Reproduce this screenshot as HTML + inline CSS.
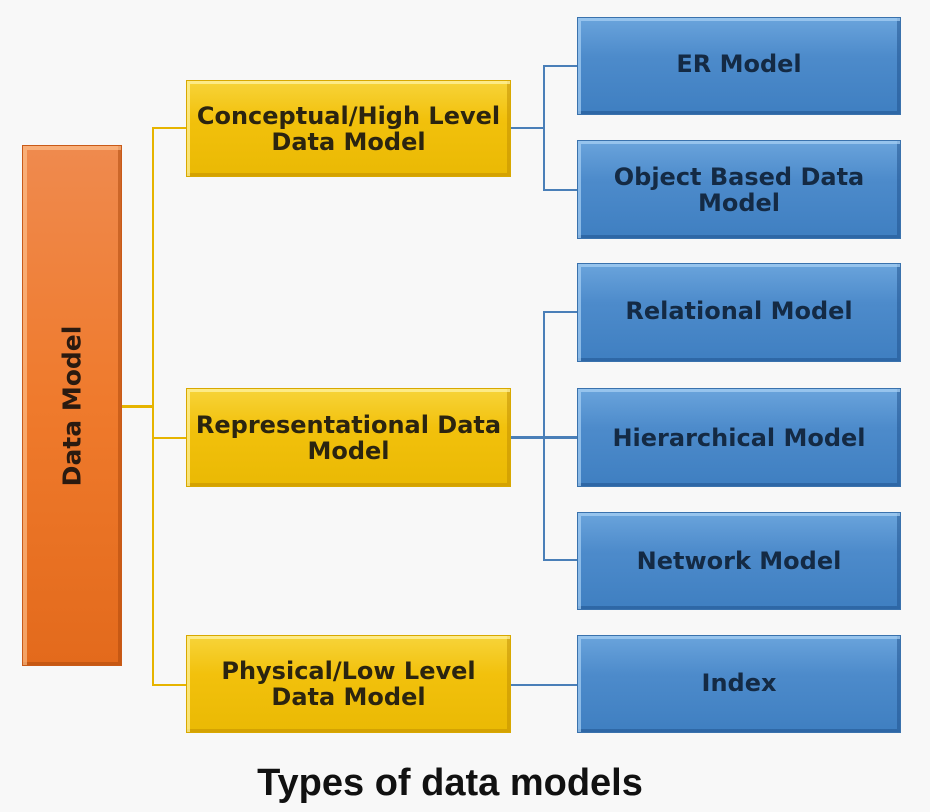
<!DOCTYPE html>
<html><head><meta charset="utf-8"><style>
html,body{margin:0;padding:0;}
body{width:930px;height:812px;background:#f8f8f8;position:relative;overflow:hidden;font-family:"DejaVu Sans","Liberation Sans",sans-serif;}
.b{position:absolute;box-sizing:border-box;display:flex;align-items:center;justify-content:center;text-align:center;font-weight:bold;font-size:24px;line-height:26px;}
.y{background:linear-gradient(#f7d43a,#f2c10c 40%,#eab904);border:1px solid #d8a800;box-shadow:inset 3px 3px 0 rgba(255,245,170,.7),inset -3px -3px 0 rgba(190,140,0,.5);color:#2b2410;left:186px;width:325px;}
.u{background:linear-gradient(#6aa4dc,#4d8bcb 40%,#3f7fc1);border:1px solid #3a72ad;box-shadow:inset 3px 3px 0 rgba(170,210,245,.7),inset -3px -3px 0 rgba(30,80,140,.5);color:#142a44;left:577px;width:324px;}
.o{left:22px;top:145px;width:100px;height:521px;background:linear-gradient(#ef8a4e,#ef7a2c 50%,#e36a1c);border:1px solid #c95a18;box-shadow:inset 4px 4px 0 rgba(255,200,150,.6),inset -3px -3px 0 rgba(170,70,10,.5);font-size:25px;}
.o span{display:block;transform:rotate(-90deg);white-space:nowrap;color:#2a1a10;}
.l{position:absolute;}
.yl{background:#e6b400;}
.bl{background:#4a7fb8;}
</style></head><body>
<div class="l yl" style="left:122px;top:405px;width:32px;height:3px"></div>
<div class="l yl" style="left:152px;top:127px;width:2px;height:559px"></div>
<div class="l yl" style="left:152px;top:127px;width:34px;height:2px"></div>
<div class="l yl" style="left:152px;top:437px;width:34px;height:2px"></div>
<div class="l yl" style="left:152px;top:684px;width:34px;height:2px"></div>

<div class="l bl" style="left:511px;top:127px;width:33px;height:2px"></div>
<div class="l bl" style="left:543px;top:65px;width:2px;height:126px"></div>
<div class="l bl" style="left:543px;top:65px;width:34px;height:2px"></div>
<div class="l bl" style="left:543px;top:189px;width:34px;height:2px"></div>

<div class="l bl" style="left:511px;top:436px;width:66px;height:3px"></div>
<div class="l bl" style="left:543px;top:311px;width:2px;height:250px"></div>
<div class="l bl" style="left:543px;top:311px;width:34px;height:2px"></div>
<div class="l bl" style="left:543px;top:559px;width:34px;height:2px"></div>

<div class="l bl" style="left:511px;top:684px;width:66px;height:2px"></div>

<div class="b o"><span>Data Model</span></div>

<div class="b y" style="top:80px;height:97px">Conceptual/High Level<br>Data Model</div>
<div class="b y" style="top:388px;height:99px">Representational Data<br>Model</div>
<div class="b y" style="top:635px;height:98px">Physical/Low Level<br>Data Model</div>

<div class="b u" style="top:17px;height:98px;padding-bottom:4px">ER Model</div>
<div class="b u" style="top:140px;height:99px">Object Based Data<br>Model</div>
<div class="b u" style="top:263px;height:99px;padding-bottom:4px">Relational Model</div>
<div class="b u" style="top:388px;height:99px">Hierarchical Model</div>
<div class="b u" style="top:512px;height:98px">Network Model</div>
<div class="b u" style="top:635px;height:98px;padding-bottom:2px">Index</div>

<div style="position:absolute;left:0;width:900px;top:762px;text-align:center;font-family:'Liberation Sans Narrow','Liberation Sans',sans-serif;font-weight:bold;font-size:38px;color:#111;">Types of data models</div>
</body></html>
